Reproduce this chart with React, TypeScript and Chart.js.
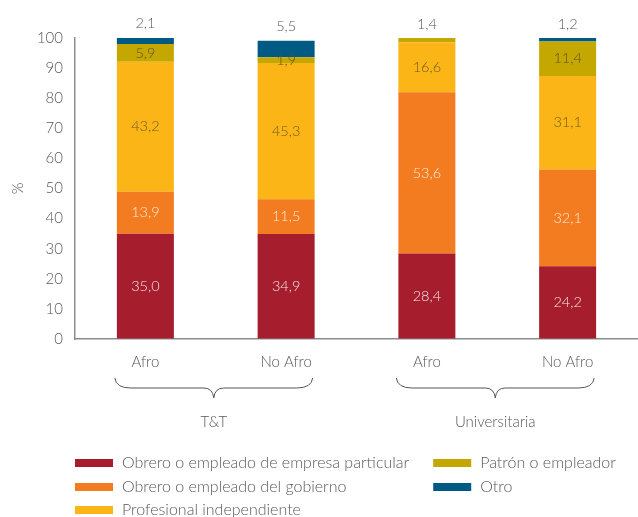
import React, { useEffect, useRef } from 'react';
import { Chart, registerables } from 'chart.js';

Chart.register(...registerables);

const categories = ['Afro', 'No Afro', 'Afro', 'No Afro'];
const groups = ['T&T', 'Universitaria'];
const seriesNames = [
  'Obrero o empleado de empresa particular',
  'Obrero o empleado del gobierno',
  'Profesional independiente',
  'Patrón o empleador',
  'Otro',
];
const obreroParticular = [35.0, 34.9, 28.4, 24.2];
const obreroGobierno = [13.9, 11.5, 53.6, 32.1];
const profesional = [43.2, 45.3, 16.6, 31.1];
const patron = [5.9, 1.9, 1.4, 11.4];
const otro = [2.1, 5.5, 0, 1.2];
const yTicks = [0, 10, 20, 30, 40, 50, 60, 70, 80, 90, 100];

const colors = ['#A61E2D', '#F47C20', '#FBB517', '#C4A700', '#005A84'];
const labelColors = ['#F4E4E6', '#FCEBDD', '#6E5B22', '#5E5218', '#595959'];
const FONT = 'Lato';
const GRAY = '#595959';

const fmt = (v: number) => v.toFixed(1).replace('.', ',');

const labelPlugin = {
  id: 'segLabels',
  afterDatasetsDraw(chart: any) {
    const ctx = chart.ctx;
    const n = chart.data.labels.length;
    ctx.save();
    ctx.font = `300 14.5px ${FONT}`;
    ctx.textAlign = 'center';
    ctx.textBaseline = 'middle';
    for (let c = 0; c < n; c++) {
      let topIdx = -1;
      chart.data.datasets.forEach((ds: any, i: number) => {
        if (ds.data[c]) topIdx = i;
      });
      chart.data.datasets.forEach((ds: any, i: number) => {
        const v = ds.data[c];
        if (!v) return;
        const el = chart.getDatasetMeta(i).data[c];
        if (i === topIdx) {
          ctx.fillStyle = GRAY;
          ctx.fillText(fmt(v), el.x, el.y - 14);
        } else {
          ctx.fillStyle = labelColors[i];
          ctx.fillText(fmt(v), el.x, (el.y + el.base) / 2);
        }
      });
    }
    ctx.restore();
  },
};

const bracePlugin = {
  id: 'braces',
  afterDraw(chart: any) {
    const ctx = chart.ctx;
    const meta = chart.getDatasetMeta(0);
    const bottom = chart.chartArea.bottom;
    ctx.save();
    groups.forEach((g, gi) => {
      const a = meta.data[gi * 2];
      const b = meta.data[gi * 2 + 1];
      const left = a.x - a.width / 2 - 2;
      const right = b.x + b.width / 2 - 2;
      const mid = (left + right) / 2;
      const top = bottom + 39;
      const line = bottom + 49;
      const tip = bottom + 59;
      ctx.strokeStyle = '#555';
      ctx.lineWidth = 1;
      ctx.beginPath();
      ctx.moveTo(left, top);
      ctx.quadraticCurveTo(left + 1, line, left + 16, line);
      ctx.lineTo(mid - 10, line);
      ctx.quadraticCurveTo(mid - 1, line, mid, tip);
      ctx.quadraticCurveTo(mid + 1, line, mid + 10, line);
      ctx.lineTo(right - 16, line);
      ctx.quadraticCurveTo(right - 1, line, right, top);
      ctx.stroke();
      ctx.fillStyle = GRAY;
      ctx.font = `300 15px ${FONT}`;
      ctx.textAlign = 'center';
      ctx.textBaseline = 'middle';
      ctx.fillText(g, mid, bottom + 83);
    });
    // legend
    const cols = [chart.chartArea.left, chart.width * 0.679];
    const rows = [463, 487, 510];
    const layout = [
      [0, 0, 0],
      [1, 0, 1],
      [2, 0, 2],
      [3, 1, 0],
      [4, 1, 1],
    ];
    ctx.font = `300 16px ${FONT}`;
    ctx.textAlign = 'left';
    ctx.textBaseline = 'middle';
    layout.forEach(([i, c, r]) => {
      const x = cols[c];
      const y = rows[r];
      ctx.fillStyle = colors[i];
      ctx.fillRect(x, y - 4, 38, 8);
      ctx.fillStyle = GRAY;
      ctx.fillText(seriesNames[i], x + 47, y);
    });
    ctx.restore();
  },
};

export default function App() {
  const ref = useRef<HTMLCanvasElement>(null);
  useEffect(() => {
    document.body.style.margin = '0';
    const series = [obreroParticular, obreroGobierno, profesional, patron, otro];
    const chart = new Chart(ref.current as HTMLCanvasElement, {
      type: 'bar',
      data: {
        labels: categories,
        datasets: series.map((d, i) => ({
          label: seriesNames[i],
          data: d,
          backgroundColor: colors[i],
          borderWidth: 0,
          categoryPercentage: 1,
          barPercentage: 0.405,
        })),
      },
      options: {
        animation: false,
        responsive: false,
        maintainAspectRatio: false,
        layout: { padding: { top: 38, right: 0, bottom: 138, left: 0 } },
        plugins: { legend: { display: false }, tooltip: { enabled: false } },
        scales: {
          x: {
            stacked: true,
            grid: { display: true, drawOnChartArea: false, drawTicks: false },
            border: { display: true, color: '#8c8c8c', width: 1.5 },
            ticks: { color: GRAY, font: { family: FONT, size: 15, weight: '300' }, padding: 14 },
            afterFit: (s: any) => { s.height = 40; },
          },
          y: {
            stacked: true,
            min: 0,
            max: 100,
            afterBuildTicks: (s: any) => { s.ticks = yTicks.map((v) => ({ value: v })); },
            grid: { display: true, drawOnChartArea: false, drawTicks: false },
            border: { display: true, color: '#8c8c8c', width: 1.5 },
            ticks: { color: GRAY, font: { family: FONT, size: 15, weight: '300' }, padding: 12 },
            title: { display: true, text: '%', color: GRAY, font: { family: FONT, size: 15, weight: '300' }, padding: { top: 9, bottom: 0 } },
            afterFit: (s: any) => { s.width = 75; },
          },
        },
      },
      plugins: [labelPlugin, bracePlugin],
    });
    return () => chart.destroy();
  }, []);
  return <canvas ref={ref} width={638} height={517} style={{ display: 'block' }} />;
}
